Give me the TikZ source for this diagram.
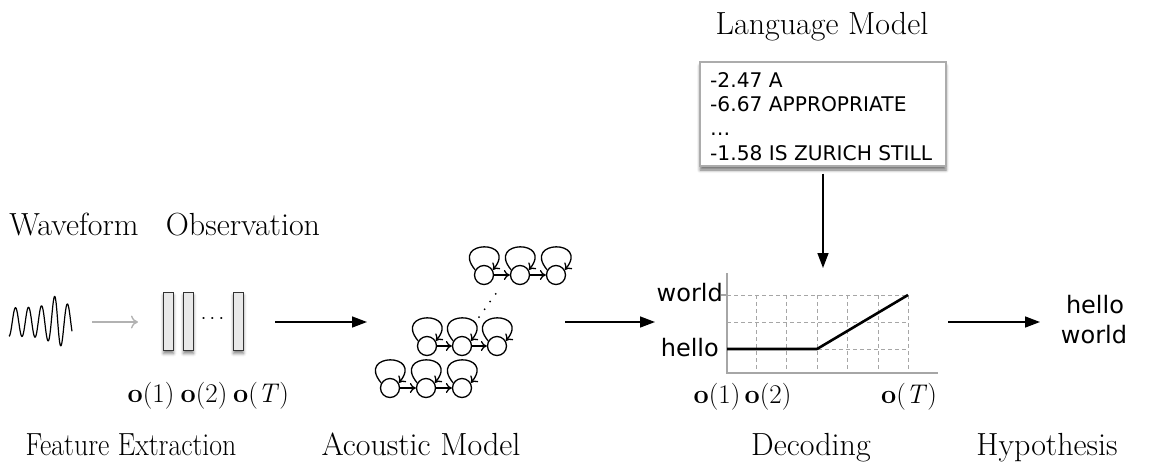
\RequirePackage{fix-cm}
\documentclass[tikz,border=0pt]{standalone}
\usepackage{fontspec}
\newfontfamily\dejavu{DejaVu Sans}
\usetikzlibrary{arrows.meta,shadows.blur}

\begin{document}
\begin{tikzpicture}[x=1pt,y=1pt,
  lbl/.style={font=\fontsize{32}{38}\selectfont, inner sep=0pt, anchor=base},
  olbl/.style={font=\fontsize{27}{32}\selectfont, inner sep=0pt, anchor=base},
  word/.style={font=\dejavu\fontsize{24}{28}\selectfont, inner sep=0pt},
  lmline/.style={font=\dejavu\fontsize{20.2}{24}\selectfont, inner sep=0pt, anchor=base west},
  bigarrow/.style={line width=1.5pt, -{Triangle[length=15pt,width=11pt]}},
  grayarrow/.style={line width=1.4pt, gray!60, -{To[length=7pt,width=13pt]}},
  frame/.style={draw=black!80, line width=1.6pt, fill=gray!18, minimum width=10pt,
    minimum height=58pt, inner sep=0pt,
    blur shadow={shadow xshift=0pt, shadow yshift=-3pt, shadow blur radius=3pt, shadow opacity=50}},
  lmbox/.style={draw=gray!65, line width=1.3pt, fill=white, minimum width=246pt,
    minimum height=104pt, inner sep=0pt,
    blur shadow={shadow xshift=0pt, shadow yshift=-4pt, shadow blur radius=3pt, shadow opacity=55}},
  state/.style={circle, draw, line width=1.3pt, minimum size=19pt, inner sep=0pt},
  trans/.style={line width=1.3pt, -{To[length=6pt,width=10pt]}},
  gridline/.style={gray!70, dash pattern=on 4pt off 3pt, line width=0.9pt},
  axisline/.style={gray!70, line width=1.4pt},
]
\useasboundingbox (0,0) rectangle (1152,-464);

% ---------- captions ----------
\node[lbl] (wavecap) at (74,-235) {Waveform};
\node[lbl] (obscap)  at (243,-235) {Observation};
\node[lbl] (lmcap)   at (822,-34) {Language Model};
\node[lbl] (fecap)   at (131,-455) {\scalebox{0.87}[1]{Feature Extraction}};
\node[lbl] (amcap)   at (421,-455) {Acoustic Model};
\node[lbl] (deccap)  at (811,-455) {Decoding};
\node[lbl] (hypcap)  at (1047,-455) {Hypothesis};

% ---------- waveform ----------
\draw[line width=1.2pt, line join=round]
  plot[domain=0:63, samples=160, smooth, variable=\t]
  ({9+\t}, {-322 - (14 + 13/(1 + (\t-48)*(\t-48)/49))*cos(27.6923*\t)});
\coordinate (ga1) at (92,-322);
\coordinate (ga2) at (138,-322);
\draw[grayarrow] (ga1) -- (ga2);

% ---------- observation frames ----------
\node[frame] (bar1) at (168.5,-321.5) {};
\node[frame] (bar2) at (188.5,-321.5) {};
\node[frame] (bar3) at (238.5,-321.5) {};
\node[inner sep=0pt, font=\fontsize{20}{24}\selectfont] (dots) at (212.5,-319) {$\cdots$};
\node[olbl] (fo1) at (151,-402) {\textbf{o}(1)};
\node[olbl] (fo2) at (204,-402) {\textbf{o}(2)};
\node[olbl] (foT) at (261,-402) {\textbf{o}(\textit{T})};

% ---------- acoustic model ----------
\node[state] (s11) at (390,-388) {};
\node[state] (s12) at (426,-388) {};
\node[state] (s13) at (462,-388) {};
\node[state] (s21) at (427,-346) {};
\node[state] (s22) at (462,-346) {};
\node[state] (s23) at (497,-346) {};
\node[state] (s31) at (484,-275) {};
\node[state] (s32) at (520,-275) {};
\node[state] (s33) at (556,-275) {};
\foreach \s in {s11,s12,s13,s21,s22,s23,s31,s32,s33}
  \draw[trans] (\s.150) .. controls +(130:40) and +(50:40) .. (\s.30);
\draw[trans] (s11) -- (s12);
\draw[trans] (s12) -- (s13);
\draw[trans] (s21) -- (s22);
\draw[trans] (s22) -- (s23);
\draw[trans] (s31) -- (s32);
\draw[trans] (s32) -- (s33);
\coordinate (dotA) at (479,-317);
\coordinate (dotB) at (497,-292);
\draw[line width=2pt, line cap=round, dash pattern=on 0pt off 9.5pt] (dotA) -- (dotB);

% ---------- stage arrows ----------
\coordinate (a1s) at (275,-322);
\coordinate (a1e) at (367,-322);
\coordinate (a2s) at (565,-322);
\coordinate (a2e) at (655,-322);
\coordinate (a3s) at (948,-322);
\coordinate (a3e) at (1040,-322);
\draw[bigarrow] (a1s) -- (a1e);
\draw[bigarrow] (a2s) -- (a2e);
\draw[bigarrow] (a3s) -- (a3e);

% ---------- language model ----------
\node[lmbox] (lm) at (823,-114) {};
\node[lmline] (lm1) at (710,-87)  {-2.47 A};
\node[lmline] (lm2) at (710,-111) {-6.67 APPROPRIATE};
\node[lmline] (lm3) at (710,-135.5) {…};
\node[lmline] (lm4) at (710,-160) {-1.58 IS ZURICH STILL};
\coordinate (plottop) at (823,-268);
\draw[bigarrow, shorten <=7pt] (lm.south) -- (plottop);

% ---------- decoding lattice ----------
\foreach \y in {295,322,349}
  \draw[gridline] (727,-\y) -- (908,-\y);
\foreach \x in {756,786,817,847,878,908}
  \draw[gridline] (\x,-295) -- (\x,-373);
\draw[axisline] (727,-273) -- (727,-373) -- (938,-373);
\draw[axisline] (721,-295) -- (727,-295);
\draw[line width=2.6pt, line join=round] (727,-349) -- (817,-349) -- (908,-295);
\node[word, anchor=base east] (wworld) at (723,-301) {world};
\node[word, anchor=base east] (whello) at (719,-356) {hello};
\node[olbl] (do1) at (717,-403) {\textbf{o}(1)};
\node[olbl] (do2) at (768,-403) {\textbf{o}(2)};
\node[olbl] (doT) at (909,-403) {\textbf{o}(\textit{T})};

% ---------- hypothesis ----------
\node[word, anchor=base] (hyp1) at (1095,-313) {hello};
\node[word, anchor=base] (hyp2) at (1094,-343) {world};
\end{tikzpicture}
\end{document}
